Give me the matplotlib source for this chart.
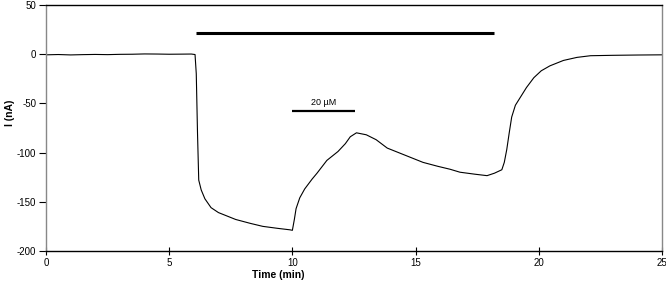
import matplotlib.pyplot as plt

# trace: time (min) and current (nA)
time_min = [0, 0.5, 1, 1.5, 2, 2.5, 3, 3.5, 4, 4.5, 5, 5.5, 5.9, 6.05,
            6.1, 6.15, 6.2, 6.3, 6.45, 6.7, 7.0, 7.4, 7.7, 8.3, 8.8, 9.4, 9.9, 10.0,
            10.08, 10.15, 10.3, 10.5, 10.8, 11.0, 11.4, 11.85, 12.15, 12.35, 12.6, 13.0,
            13.4, 13.85, 14.4, 14.9, 15.3, 15.9, 16.4, 16.8, 17.4, 17.9, 18.2, 18.5,
            18.6, 18.7, 18.8, 18.9, 19.05, 19.3, 19.5, 19.8, 20.1, 20.45, 21.0, 21.55,
            22.1, 23, 24, 25]
current_na = [-0.8, -0.5, -0.9, -0.6, -0.4, -0.6, -0.3, -0.2, 0.1, 0.0, -0.2, -0.1, 0.0, -0.5,
              -20, -80, -128, -138, -147, -156, -161, -165, -168, -172, -175, -177, -178.5, -179,
              -168, -157, -146, -137, -127, -121, -108, -99, -91, -84, -80, -82,
              -87, -95.5, -101, -106, -110, -114, -117, -120, -122, -123.5, -121, -117.5,
              -110, -97, -80, -64, -52, -42, -34, -24, -17, -12, -6.5, -3.4,
              -1.7, -1.3, -1.0, -0.8]

# application bars
long_bar_t = [6.1, 18.2]
long_bar_y = 21
short_bar_t = [10.0, 12.55]
short_bar_y = -58
short_bar_label = "20 µM"

plt.rcParams['font.family'] = ['Liberation Sans', 'DejaVu Sans']
plt.rcParams['axes.unicode_minus'] = False

fig = plt.figure(figsize=(6.66, 2.91), dpi=100)
ax = fig.add_axes([0.069, 0.1375, 0.925, 0.846])

ax.plot(time_min, current_na, color="black", lw=0.8)
ax.plot(long_bar_t, [long_bar_y, long_bar_y], color="black", lw=2.2, solid_capstyle="butt")
ax.plot(short_bar_t, [short_bar_y, short_bar_y], color="black", lw=1.6, solid_capstyle="butt")
ax.text(sum(short_bar_t) / 2, short_bar_y + 4.5, short_bar_label, ha="center", va="bottom", fontsize=6.5)

ax.set_xlim(0, 25)
ax.set_ylim(-200, 50)
ax.set_xticks([0, 5, 10, 15, 20, 25])
ax.set_yticks([-200, -150, -100, -50, 0, 50])

ax.spines["left"].set_color("#888888")
ax.spines["right"].set_color("#888888")
ax.spines["top"].set_color("black")
ax.spines["bottom"].set_color("black")
for s in ax.spines.values():
    s.set_linewidth(1.0)

ax.tick_params(axis="x", direction="inout", length=6, width=0.8, labelsize=7, pad=2)
ax.tick_params(axis="y", direction="out", length=5, width=0.8, labelsize=7, pad=2)

ax.set_xlabel("Time (min)", fontsize=7.5, fontweight="bold")
ax.xaxis.set_label_coords(0.377, -0.077)
ax.set_ylabel("I (nA)", fontsize=7.5, fontweight="bold")
ax.yaxis.set_label_coords(-0.05, 0.56)

fig.savefig("out.png", dpi=100)
